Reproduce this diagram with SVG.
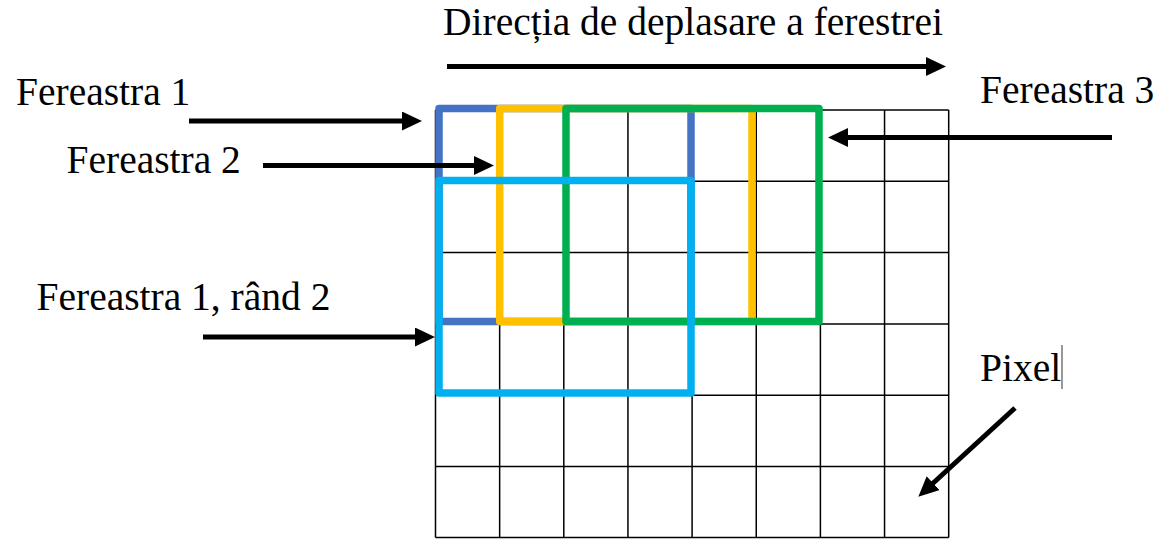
<svg xmlns="http://www.w3.org/2000/svg" width="1176" height="540" viewBox="0 0 1176 540">
<style>
.lbl{font-family:"Liberation Serif","Times New Roman",serif;font-size:39.5px;fill:#000}
.grid{stroke:#000;stroke-width:1.5;fill:none}
.win{fill:none;stroke-width:7.5;stroke-linejoin:round}
.arr{stroke:#000;stroke-width:5;fill:none;marker-end:url(#ah)}
</style>
<defs>
<marker id="ah" markerUnits="userSpaceOnUse" markerWidth="20" markerHeight="19" viewBox="0 0 20 19" refX="2" refY="9.5" orient="auto">
<path d="M0,0 L20,9.5 L0,19 Z" fill="#000"/>
</marker>
</defs>
<rect width="1176" height="540" fill="#fff"/>
<g id="grid" class="grid">
<line x1="435.5" y1="110" x2="948.7" y2="110"/>
<line x1="435.5" y1="181.3" x2="948.7" y2="181.3"/>
<line x1="435.5" y1="252.6" x2="948.7" y2="252.6"/>
<line x1="435.5" y1="323.9" x2="948.7" y2="323.9"/>
<line x1="435.5" y1="395.2" x2="948.7" y2="395.2"/>
<line x1="435.5" y1="466.5" x2="948.7" y2="466.5"/>
<line x1="435.5" y1="537.5" x2="948.7" y2="537.5"/>
<line x1="435.5" y1="110" x2="435.5" y2="537.5"/>
<line x1="499.65" y1="110" x2="499.65" y2="537.5"/>
<line x1="563.8" y1="110" x2="563.8" y2="537.5"/>
<line x1="627.95" y1="110" x2="627.95" y2="537.5"/>
<line x1="692.1" y1="110" x2="692.1" y2="537.5"/>
<line x1="756.25" y1="110" x2="756.25" y2="537.5"/>
<line x1="820.4" y1="110" x2="820.4" y2="537.5"/>
<line x1="884.55" y1="110" x2="884.55" y2="537.5"/>
<line x1="948.7" y1="110" x2="948.7" y2="537.5"/>
</g>
<g id="fereastra1"><rect class="win" x="439" y="108.5" width="252" height="213" stroke="#4472C4"/></g>
<g id="fereastra2"><rect class="win" x="499.7" y="108.5" width="252.3" height="213" stroke="#FFC000"/></g>
<g id="fereastra3"><rect class="win" x="566" y="108.5" width="253" height="213" stroke="#00B050"/></g>
<g id="fereastra1-rand2"><rect class="win" x="439" y="180.5" width="252" height="212.5" stroke="#00B0F0"/></g>
<g id="labels">
<text class="lbl" x="443" y="35">Direcția de deplasare a ferestrei</text>
<text class="lbl" x="16" y="105">Fereastra 1</text>
<text class="lbl" x="66.5" y="173">Fereastra 2</text>
<text class="lbl" x="980" y="103">Fereastra 3</text>
<text class="lbl" x="36.5" y="310">Fereastra 1, rând 2</text>
<text class="lbl" x="980" y="381">Pixel</text>
<line x1="1062" y1="345" x2="1062" y2="389" stroke="#333" stroke-width="1"/>
</g>
<g id="connectors">
<line class="arr" x1="447" y1="66.5" x2="928" y2="66.5"/>
<line class="arr" x1="189" y1="121" x2="404" y2="121"/>
<line class="arr" x1="263" y1="165.5" x2="476" y2="165.5"/>
<line class="arr" x1="1112" y1="137.5" x2="846" y2="137.5"/>
<line class="arr" x1="203" y1="337" x2="417" y2="337"/>
<line class="arr" x1="1015" y1="408" x2="931.6" y2="484.5"/>
</g>
</svg>
